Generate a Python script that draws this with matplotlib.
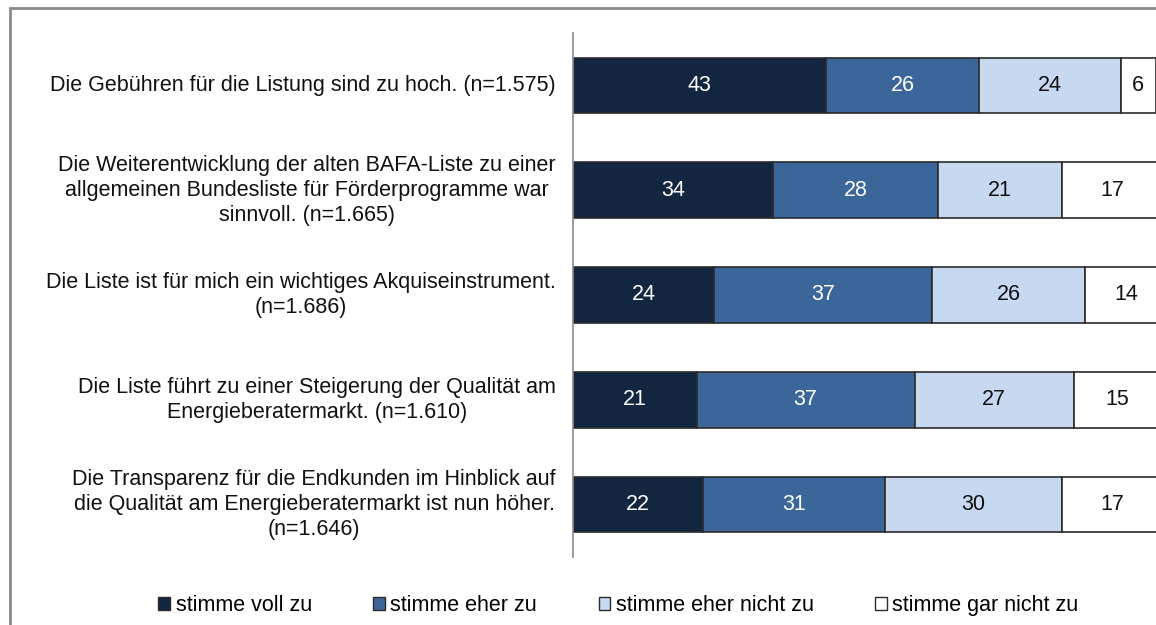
import matplotlib
matplotlib.use("Agg")
import matplotlib.pyplot as plt
from matplotlib.patches import Rectangle, Patch
import numpy as np

plt.rcParams['font.family'] = ['Liberation Sans', 'DejaVu Sans']

statements = [
    "Die Gebühren für die Listung sind zu hoch. (n=1.575)",
    "Die Weiterentwicklung der alten BAFA-Liste zu einer\nallgemeinen Bundesliste für Förderprogramme war\nsinnvoll. (n=1.665)",
    "Die Liste ist für mich ein wichtiges Akquiseinstrument.\n(n=1.686)",
    "Die Liste führt zu einer Steigerung der Qualität am\nEnergieberatermarkt. (n=1.610)",
    "Die Transparenz für die Endkunden im Hinblick auf\ndie Qualität am Energieberatermarkt ist nun höher.\n(n=1.646)",
]
series_names = ["stimme voll zu", "stimme eher zu", "stimme eher nicht zu", "stimme gar nicht zu"]
voll_zu = [43, 34, 24, 21, 22]
eher_zu = [26, 28, 37, 37, 31]
eher_nicht_zu = [24, 21, 26, 27, 30]
gar_nicht_zu = [6, 17, 14, 15, 17]

colors = ["#12263f", "#3a6699", "#c6d9f0", "#ffffff"]
text_colors = ["white", "white", "#111111", "#111111"]
FS = 15.5

fig = plt.figure(figsize=(11.56, 6.25), dpi=100)

# outer chart frame
fig.patches.append(Rectangle((10 / 1156, -0.1), 1.2, 1 - 8 / 625 + 0.1,
                             transform=fig.transFigure, fill=False,
                             edgecolor="#8a8a8a", linewidth=2, zorder=0))

ax = fig.add_axes([573 / 1156, 0.109, 1 - 573 / 1156, 0.838])

y = np.arange(len(statements))
left = np.zeros(len(statements))
for vals, col, tcol, name in zip([voll_zu, eher_zu, eher_nicht_zu, gar_nicht_zu],
                                 colors, text_colors, series_names):
    vals = np.array(vals, dtype=float)
    ax.barh(y, vals, left=left, height=0.53, color=col,
            edgecolor="#2b2b2b", linewidth=1.2, label=name)
    for yi, l, v in zip(y, left, vals):
        ax.text(l + v / 2, yi, f"{int(v)}", ha="center", va="center",
                color=tcol, fontsize=FS)
    left += vals

ax.set_xlim(0, 99)
ax.set_ylim(len(statements) - 0.5, -0.5)
ax.set_xticks([])
ax.set_yticks([])
for s in ["top", "right", "bottom"]:
    ax.spines[s].set_visible(False)
ax.spines["left"].set_color("#8a8a8a")
ax.spines["left"].set_linewidth(1.2)

for yi, lab in zip(y, statements):
    ax.text(-17 / 5.89, yi, lab, ha="right", va="center", multialignment="center",
            fontsize=FS, color="#111111", linespacing=1.25)

handles = [Patch(facecolor=c, edgecolor="#2b2b2b", linewidth=1.0) for c in colors]
fig.legend(handles, series_names, loc="center", bbox_to_anchor=(0.535, 0.031),
           ncol=4, frameon=False, fontsize=FS, handlelength=0.55, handleheight=0.55,
           handletextpad=0.25, columnspacing=2.85)

fig.savefig("out.png", dpi=100)
